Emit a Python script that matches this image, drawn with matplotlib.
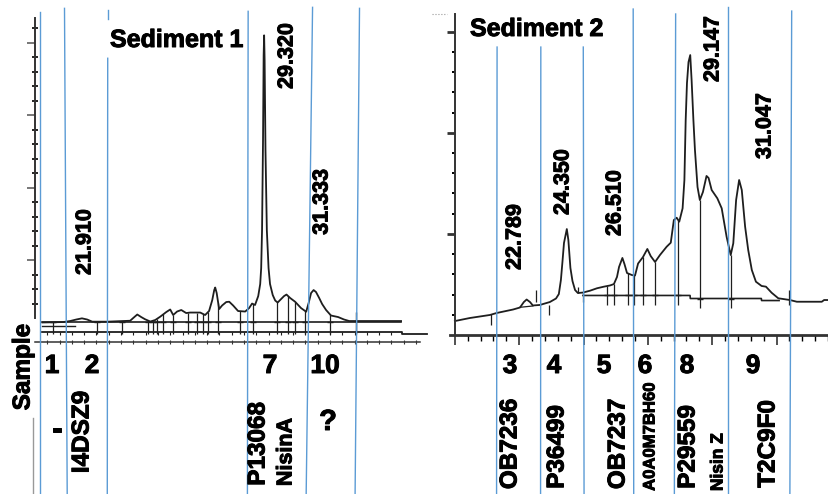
import numpy as np
import matplotlib
matplotlib.use("Agg")
import matplotlib.pyplot as plt
import matplotlib.patheffects as pe
from matplotlib.lines import Line2D

plt.rcParams['font.family'] = ['Liberation Sans', 'DejaVu Sans']

# ---------------- Sediment 1 chromatogram (retention time in min, signal) ----------------
s1_time = [20.30, 21.15, 21.43, 21.68, 21.91, 22.12, 22.33, 22.94, 23.87, 24.04,
           24.16, 24.32, 24.48, 24.69, 24.89, 25.09, 25.34, 25.50, 25.62, 25.78,
           25.95, 26.15, 26.31, 26.72, 26.92, 27.08, 27.21, 27.29, 27.33, 27.39,
           27.49, 27.61, 27.78, 27.90, 28.06, 28.26, 28.55, 28.71, 28.83, 28.95,
           29.08, 29.16, 29.20, 29.235, 29.275, 29.30, 29.320, 29.34, 29.375, 29.43,
           29.50, 29.56, 29.67, 29.77, 29.87, 30.01, 30.13, 30.23, 30.38, 30.58,
           30.82, 31.03, 31.13, 31.23, 31.333, 31.43, 31.56, 31.68, 31.84, 32.04,
           32.33, 32.57, 32.78, 33.06, 34.89]
s1_signal = [14.5, 15.1, 16.5, 18.6, 20.2, 18.6, 15.6, 15.6, 16.9, 22.0,
             25.5, 22.0, 18.9, 15.8, 17.9, 22.4, 28.9, 32.4, 24.8, 29.6,
             31.7, 27.5, 28.2, 28.2, 24.8, 30.3, 45.4, 59.2, 62.7, 55.1,
             33.0, 37.9, 42.7, 43.1, 37.9, 30.3, 29.6, 34.4, 40.6, 38.6,
             50.9, 67.5, 89.5, 141.8, 265.8, 382.8, 410.3, 375.9, 252.0, 141.8,
             89.5, 67.5, 52.3, 44.8, 42.0, 46.8, 50.9, 53.0, 48.2, 43.1,
             34.4, 29.3, 41.3, 55.1, 59.2, 56.5, 48.2, 39.9, 31.7, 24.1,
             22.0, 18.6, 16.5, 16.5, 16.5]
s1_drop_times = [20.74, 22.53, 23.55, 24.60, 24.81, 24.97, 25.21, 25.62, 26.23, 26.60,
                 26.84, 27.04, 27.45, 28.34, 28.87, 29.85, 30.30, 30.58, 30.99, 32.00]
s1_end_mark = (33.06, 28.9)
s1_baseline_level = 15.1
s1_lower_trace_level = 9.6
s1_lower_axis_level = 1.4
s1_peak_labels = ["21.910", "29.320", "31.333"]

# ---------------- Sediment 2 chromatogram ----------------
s2_time = [20.00, 20.58, 21.36, 21.63, 22.26, 22.53, 22.68, 22.789, 22.92, 23.03,
           23.30, 23.69, 23.93, 24.04, 24.12, 24.18, 24.24, 24.35, 24.41, 24.49,
           24.57, 24.67, 24.78, 24.98, 25.25, 25.52, 25.79, 26.03, 26.18, 26.30,
           26.38, 26.51, 26.59, 26.69, 26.88, 27.00, 27.12, 27.31, 27.48, 27.61,
           27.78, 27.97, 28.23, 28.39, 28.51, 28.62, 28.72, 28.85, 28.92, 28.97,
           29.02, 29.08, 29.147, 29.20, 29.27, 29.33, 29.43, 29.52, 29.64, 29.78,
           29.86, 29.98, 30.20, 30.37, 30.56, 30.72, 30.82, 30.93, 31.047, 31.15,
           31.28, 31.40, 31.54, 31.70, 31.92, 32.09, 32.31, 32.57, 32.76, 33.02,
           33.29, 34.26, 34.35, 34.54]
s2_signal = [13.8, 16.8, 19.8, 21.8, 25.2, 27.2, 32.6, 35.1, 32.6, 29.2,
             29.7, 32.6, 36.1, 40.5, 54.4, 72.2, 91.0, 104.8, 94.0, 66.3,
             53.4, 44.5, 41.5, 42.0, 43.8, 46.2, 47.8, 49.0, 50.4, 57.4,
             67.3, 76.2, 70.2, 61.3, 59.3, 58.8, 70.7, 77.1, 85.1, 78.1,
             72.2, 79.1, 87.3, 91.3, 113.7, 116.0, 112.1, 125.3, 153.3, 212.6,
             249.2, 270.0, 276.9, 252.2, 212.6, 183.0, 146.4, 133.5, 141.4, 157.3,
             155.3, 143.4, 135.2, 125.3, 97.2, 79.1, 90.7, 133.5, 153.3, 143.4,
             107.1, 84.1, 64.3, 52.7, 48.5, 47.8, 41.8, 36.3, 35.6, 34.6,
             32.9, 32.9, 34.6, 34.6]
s2_baseline_time = [24.98, 29.14, 29.15, 31.91, 31.92, 32.60]
s2_baseline_signal = [39.1, 39.1, 36.1, 36.1, 34.1, 34.1]
s2_bump_base_time = [22.53, 23.03]
s2_bump_base_signal = [27.4, 28.7]
s2_drop_times = [25.90, 26.18, 26.71, 26.96, 27.32, 27.78, 28.67, 29.52, 30.72]
# event marks: time, upper end, lower end
s2_marks = [(21.39, 20.8, 9.9), (23.15, 44.5, 32.6), (23.64, 29.7, 19.8),
            (24.79, 47.8, 41.2), (24.99, 42.8, 32.6), (33.00, 44.5, 29.7)]
s2_peak_labels = ["22.789", "24.350", "26.510", "29.147", "31.047"]

# ---------------- sample columns ----------------
s1_sep_top = [20.21, 21.20, 22.96, 28.67, 31.29, 33.20]
s1_sep_bottom = [20.21, 21.31, 22.94, 28.64, 31.03, 33.02]
s1_sep_ytop = [442.0, 447.5, 444.8, 443.4, 448.9, 447.5]
s2_sep_top = [21.64, 23.34, 24.99, 26.93, 28.58, 30.63, 33.09]
s2_sep_bottom = [21.62, 23.33, 25.02, 26.95, 28.53, 30.63, 33.02]
s2_sep_ytop = [284.8, 284.8, 284.8, 322.4, 317.5, 324.4, 320.4]

s1_samples = ["1", "2", "7", "10"]
s2_samples = ["3", "4", "5", "6", "8", "9"]
s1_ids = ["I4DSZ9", "P13068"]
s1_names = ["NisinA"]
s2_ids = ["OB7236", "P36499", "OB7237", "P29559", "T2C9F0"]
s2_small_ids = ["A0A0M7BH60", "Nisin Z"]

W, H = 829, 494
INK = '#1e1e1e'
BLUE = '#5b9bd5'

fig = plt.figure(figsize=(W / 100, H / 100), dpi=100)


def fpos(x, y):
    return x / W, 1 - y / H


ax1 = fig.add_axes([35 / W, 1 - 342 / H, 385 / W, 324 / H])
ax2 = fig.add_axes([450 / W, 1 - 335 / H, 379 / W, 321 / H])
ax1.set_xlim(20.0, 35.66)
ax1.set_ylim(-12.4, 434.2)
ax2.set_xlim(19.81, 34.54)
ax2.set_ylim(0, 317.5)

for ax in (ax1, ax2):
    ax.patch.set_alpha(0)
    ax.spines['top'].set_visible(False)
    ax.spines['right'].set_visible(False)
    for s in ('left', 'bottom'):
        ax.spines[s].set_color('#333333')
    ax.tick_params(labelbottom=False, labelleft=False, colors='#333333')

# ---- left panel axes ----
ax1.spines['left'].set_bounds(21.0, 434.2)
ax1.spines['left'].set_linewidth(1.4)
ax1.spines['bottom'].set_linewidth(1.1)
ax1.set_yticks(np.arange(100, 401, 100))
ax1.set_yticks(np.arange(40, 434, 20), minor=True)
ax1.set_xticks(np.arange(20.5, 35.6, 0.5))
ax1.tick_params(axis='y', which='major', direction='out', length=6, width=1.4, colors='#777777')
ax1.tick_params(axis='y', which='minor', direction='inout', length=4, width=1.2)
ax1.tick_params(axis='x', which='major', direction='inout', length=3, width=0.8)

# signal trace, integration lines and drop lines
ax1.plot(s1_time, s1_signal, color=INK, lw=1.3, zorder=2)
ax1.plot([s1_time[0], s1_time[-1]], [s1_baseline_level] * 2, color=INK, lw=1.2)
ax1.plot([s1_time[0], 21.64], [s1_lower_trace_level] * 2, color=INK, lw=1.0)
ax1.plot([s1_time[0], 34.93, 34.93, 35.94],
         [s1_lower_axis_level, s1_lower_axis_level, -0.7, -0.7],
         color=INK, lw=1.3, clip_on=False)
tick_t = np.arange(20.5, 34.9, 0.5)
ax1.vlines(tick_t, s1_lower_axis_level - 4.0, s1_lower_axis_level, color=INK, lw=0.8)
tops1 = np.interp(s1_drop_times, s1_time, s1_signal)
ax1.vlines(s1_drop_times, -1.4, tops1, color=INK, lw=0.9)
ax1.plot(s1_drop_times, [s1_baseline_level] * len(s1_drop_times), ls='none',
         marker='_', ms=5, mew=1.0, color=INK)
ax1.vlines(s1_end_mark[0], -1.4, s1_end_mark[1], color=INK, lw=1.0)

# column separators
for i, (t0, t1, yt) in enumerate(zip(s1_sep_top, s1_sep_bottom, s1_sep_ytop)):
    yb = -221.7
    if i == 2:
        ax1.plot([t0, t0], [yt, 432.4], color=BLUE, lw=1.0, clip_on=False, zorder=3)
        tm = t0 + (t1 - t0) * (yt - 378.7) / (yt - yb)
        ax1.plot([tm, t1], [378.7, yb], color=BLUE, lw=1.0, clip_on=False, zorder=3)
    else:
        ax1.plot([t0, t1], [yt, yb], color=BLUE, lw=1.0, clip_on=False, zorder=3)

# ---- right panel axes ----
ax2.spines['left'].set_position(('data', 20.0))
ax2.spines['left'].set_linewidth(1.4)
ax2.spines['bottom'].set_linewidth(2.0)
ax2.set_yticks([100, 200, 300])
ax2.set_yticks(np.arange(20, 317, 20), minor=True)
ax2.set_xticks(np.arange(20, 34.6, 2.5))
ax2.set_xticks(np.arange(20, 34.6, 0.5), minor=True)
ax2.tick_params(axis='y', which='major', direction='out', length=6, width=2.0)
ax2.tick_params(axis='y', which='minor', direction='out', length=2.5, width=1.4)
ax2.tick_params(axis='x', which='major', direction='out', length=7, width=1.2)
ax2.tick_params(axis='x', which='minor', direction='out', length=4, width=1.0)
ax2.plot([19.11, 19.69], [317.5, 317.5], color='#999999', lw=0.8, ls=':', clip_on=False)

ax2.plot(s2_time, s2_signal, color=INK, lw=1.3, zorder=2)
ax2.plot(s2_baseline_time, s2_baseline_signal, color=INK, lw=1.2)
ax2.plot(s2_bump_base_time, s2_bump_base_signal, color=INK, lw=0.9)
tops2 = np.interp(s2_drop_times, s2_time, s2_signal)
base2 = np.interp(s2_drop_times, s2_baseline_time, s2_baseline_signal)
ax2.vlines(s2_drop_times, base2 - 9, tops2, color=INK, lw=0.9)
ax2.plot(s2_drop_times, base2, ls='none', marker='_', ms=5, mew=1.0, color=INK)
for t, y0, y1 in s2_marks:
    ax2.vlines(t, y1, y0, color=INK, lw=0.9)

for t0, t1, yt in zip(s2_sep_top, s2_sep_bottom, s2_sep_ytop):
    ax2.plot([t0, t1], [yt, -157.3], color=BLUE, lw=1.0, clip_on=False, zorder=3)

# ---- text ----
heavy = [pe.withStroke(linewidth=0.7, foreground='black')]
bold = dict(weight='bold', color='black', path_effects=heavy)
fig.text(*fpos(110, 47), "Sediment 1", fontsize=18, ha='left', va='baseline', **bold)
fig.text(*fpos(470, 36), "Sediment 2", fontsize=18, ha='left', va='baseline', **bold)

peak_pos_1 = [(85, 242), (287, 56), (322, 202)]
for lab, (x, y) in zip(s1_peak_labels, peak_pos_1):
    fig.text(*fpos(x, y), lab, fontsize=15.5, rotation=90, ha='center', va='center', **bold)
peak_pos_2 = [(515, 237), (563, 182), (615, 203), (713, 49), (765, 126)]
for lab, (x, y) in zip(s2_peak_labels, peak_pos_2):
    fig.text(*fpos(x, y), lab, fontsize=15.5, rotation=90, ha='center', va='center', **bold)

for lab, x in zip(s1_samples, [52, 92, 270, 325]):
    fig.text(*fpos(x, 366), lab, fontsize=19, ha='center', va='center', **bold)
for lab, x in zip(s2_samples, [510, 554, 604, 645, 687, 753]):
    fig.text(*fpos(x, 366), lab, fontsize=19, ha='center', va='center', **bold)

fig.text(*fpos(23, 367), "Sample", fontsize=17.5, rotation=90, ha='center', va='center', **bold)
fig.add_artist(Line2D([33 / W, 33 / W], [0, 1 - 418 / H], color='#999999', lw=1.0))

fig.text(*fpos(57, 430), "-", fontsize=22, ha='center', va='center', **bold)
fig.text(*fpos(328, 422), "?", fontsize=21, ha='center', va='center', **bold)
for lab, (x, y) in zip(s1_ids, [(82, 432), (258, 444)]):
    fig.text(*fpos(x, y), lab, fontsize=17.5, rotation=90, ha='center', va='center', **bold)
fig.text(*fpos(286, 452), s1_names[0], fontsize=15.5, rotation=90, ha='center', va='center', **bold)

for lab, (x, y) in zip(s2_ids, [(510, 444), (557, 447), (618, 444), (688, 447), (768, 444)]):
    fig.text(*fpos(x, y), lab, fontsize=17.5, rotation=90, ha='center', va='center', **bold)
for lab, (x, y), fs in zip(s2_small_ids, [(650, 437), (718, 462)], [12, 12.5]):
    fig.text(*fpos(x, y), lab, fontsize=fs, rotation=90, ha='center', va='center', **bold)

fig.savefig("out.png", dpi=100)
